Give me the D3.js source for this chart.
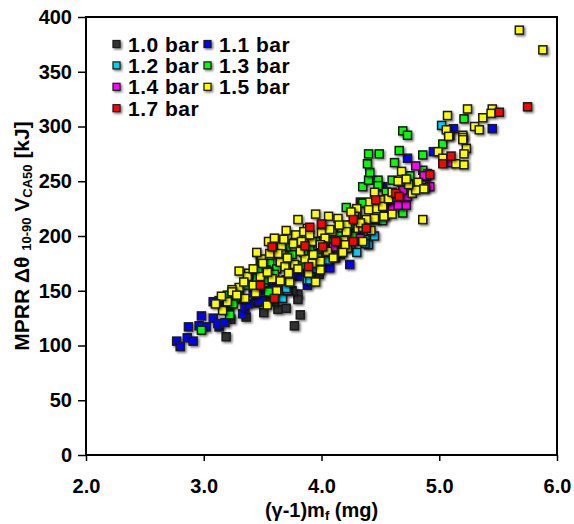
<!DOCTYPE html>
<html>
<head>
<meta charset="utf-8">
<script src="https://cdn.jsdelivr.net/npm/d3@7"></script>
<style>
  body { margin: 0; background: #fff; }
  svg text { font-family: "Liberation Sans", Arial, sans-serif; font-weight: bold; fill: #000; }
</style>
</head>
<body>
<svg id="chart"></svg>
<script>
// Data: [ (γ-1)mf , MPRR value ]
const bar10 = [[3.19,108],[3.23,124],[3.36,126],[3.51,130],[3.63,133],[3.70,134],[3.80,147],[3.80,142],
  [3.77,118],[3.82,128],[3.60,140],[3.92,160],[3.98,165],[4.05,172],[3.75,150],[3.55,145],[4.12,180]];
const bar11 = [[2.77,104],[2.80,99],[2.86,107],[2.91,104],[2.87,117],[2.96,118],[2.98,127],[3.02,117],
  [3.08,125],[3.13,117],[3.12,120],[3.08,140],[3.13,141],[3.16,139],[3.18,121],[3.20,135],[3.22,137],
  [3.28,143],[3.33,129],[3.35,135],[3.44,139],[3.46,140],[3.49,141],[3.42,148],[3.52,150],[3.58,152],
  [3.65,155],[3.80,163],[3.88,155],[3.85,168],[3.95,170],[4.07,171],[4.16,183],[4.24,174],[4.20,190],
  [4.33,231],[4.52,245],[4.73,271],[4.95,277],[5.12,298],[5.45,298],[4.00,178],[3.70,160],[4.30,200],[4.45,215],
  [3.25,145],[3.38,138],[3.55,148],[3.62,158],[3.75,165],[3.90,172]];
const bar12 = [[3.67,143],[3.71,150],[3.70,152],[3.88,160],[3.90,160],[4.13,187],[4.37,197],[4.40,192],
  [4.37,193],[4.25,190],[4.05,178],[3.95,170],[4.30,185],[5.02,301],[4.45,200]];
const bar13 = [[2.98,114],[3.22,128],[3.20,146],[3.27,143],[3.55,149],[3.72,159],[3.75,183],[3.56,175],
  [3.83,173],[3.97,184],[3.53,169],[3.53,160],[3.40,158],[3.30,150],[3.62,170],[3.90,190],[4.05,195],
  [4.10,205],[4.21,226],[4.35,245],[4.40,251],[4.48,251],[4.48,246],[4.41,258],[4.39,266],[4.40,275],
  [4.49,275],[4.62,267],[4.66,278],[4.69,296],[4.73,292],[4.86,274],[4.86,260],[4.60,251],[4.68,249],
  [5.03,284],[5.21,307],[4.69,221],[4.52,214],[4.30,220],[4.25,210],[4.15,200],[3.95,195],[4.55,240],
  [4.75,255],[4.00,188],[3.45,162],[3.65,180],[4.45,230],
  [3.36,155],[3.48,170],[3.70,190],[3.85,185],[4.15,192],[4.28,200],[3.25,138],[3.45,150],[3.60,165],
  [4.35,230],[4.00,210]];
const bar14 = [[4.04,185],[4.11,189],[4.10,190],[4.33,198],[4.52,226],[4.60,226],[4.65,228],[4.72,228],
  [4.73,236],[4.69,242],[4.80,264],[4.89,254],[4.90,257],[4.87,255],[4.92,245],[5.09,267],[4.45,215],[4.55,232]];
const bar15 = [[5.68,388],[5.88,370],[4.86,215],
  [5.24,316],[5.37,308],[5.45,316],[5.44,312],[5.30,300],[5.34,297],[5.20,292],[5.20,290],[5.09,292],
  [5.23,280],[5.07,310],[5.06,297],[5.08,291],[5.20,288],[5.21,275],[4.99,277],[5.03,271],[5.14,266],
  [5.21,265],[4.88,244],
  [4.68,259],[4.82,249],[4.77,239],[4.80,242],[4.56,234],[4.50,233],[4.41,231],[4.40,224],[4.47,225],
  [4.54,219],[4.52,227],[4.87,243],[4.74,247],[4.57,234],[4.45,216],[4.38,215],[4.53,218],[4.30,225],[4.45,240],
  [4.06,218],[4.14,216],[4.00,203],[4.09,204],[4.22,205],[4.31,207],[3.88,207],[3.92,195],[4.19,196],
  [4.22,189],[4.35,208],[4.22,210],[4.07,206],[4.21,204],[4.03,198],[4.13,196],[4.20,192],[4.00,191],
  [3.87,201],[3.78,201],[3.77,194],[3.99,192],[3.65,192],[3.61,184],[3.66,186],[3.48,178],[3.77,174],
  [3.86,179],[3.99,177],[3.65,176],[3.69,172],[3.53,167],[3.38,166],[3.37,163],[3.48,163],[3.58,161],
  [3.65,159],[3.73,158],[3.99,169],[3.89,166],[3.95,158],[3.30,153],[3.24,151],[3.24,149],[3.35,143],
  [3.16,132],[3.49,179],[3.44,148],[3.54,137],[3.54,167],[3.66,191],[3.76,193],[3.85,204],[3.90,201],
  [3.63,184],[3.50,175],[3.56,184],[3.72,166],[3.55,195],[3.70,205],[3.80,215],[3.95,220],
  [3.42,170],[3.45,185],[3.60,198],[3.68,197],[3.82,186],[3.93,183],[4.05,186],[4.15,210],[4.28,218],
  [4.33,212],[3.34,158],[3.28,146],[3.20,140],[3.42,155],[3.62,150],[3.80,170],[3.92,175],[4.10,180],
  [4.18,185],[4.35,195],[4.60,240],[4.65,250],[4.72,252],[4.60,220],[3.30,168],[3.15,145],[3.10,138],
  [3.71,180],[3.83,195],[4.25,222],[4.42,205]];
const bar17 = [[3.48,155],[3.58,190],[3.60,143],[3.86,191],[3.89,172],[3.90,208],[4.00,211],[4.01,190],
  [4.12,195],[4.27,195],[4.27,215],[4.38,207],[4.46,233],[4.63,239],[4.66,236],[4.92,256],[5.03,266],
  [5.10,273],[5.51,313],[5.75,318]];

const seriesNames = ['1.0 bar', '1.1 bar', '1.2 bar', '1.3 bar', '1.4 bar', '1.5 bar', '1.7 bar'];
const seriesData = [bar10, bar11, bar12, bar13, bar14, bar15, bar17];
const seriesColors = ['#333333', '#0000ff', '#00ccff', '#00ff00', '#ff00ff', '#ffff00', '#ff0000'];
const xTicks = [2, 3, 4, 5, 6];
const yTicks = [0, 50, 100, 150, 200, 250, 300, 350, 400];

const margin = { top: 17, right: 17, bottom: 69, left: 86 };
const width = 574 - margin.left - margin.right;
const height = 524 - margin.top - margin.bottom;

const root = d3.select('#chart').attr('width', 574).attr('height', 524);

// soft drop shadow under the markers
const filt = root.append('defs').append('filter').attr('id', 'shadow')
  .attr('x', '-50%').attr('y', '-50%').attr('width', '200%').attr('height', '200%');
filt.append('feDropShadow').attr('dx', 1.5).attr('dy', 1.5).attr('stdDeviation', 0.8)
  .attr('flood-color', '#000').attr('flood-opacity', 0.55);

const svg = root.append('g').attr('transform', `translate(${margin.left}, ${margin.top})`);

const xScale = d3.scaleLinear().domain([2, 6]).range([0, width]);
const yScale = d3.scaleLinear().domain([0, 400]).range([height, 0]);

// axes
const xAxis = svg.append('g').attr('transform', `translate(0, ${height})`)
  .call(d3.axisBottom(xScale).tickValues(xTicks).tickFormat(d3.format('.1f')).tickSize(6).tickPadding(18));
const yAxis = svg.append('g')
  .call(d3.axisLeft(yScale).tickValues(yTicks).tickFormat(d3.format('d')).tickSize(8).tickPadding(6));
[xAxis, yAxis].forEach(a => {
  a.select('.domain').remove();
  a.selectAll('line').attr('stroke', '#000').attr('stroke-width', 1.5);
  a.selectAll('text').attr('font-size', 20).attr('font-family', '"Liberation Sans", Arial, sans-serif')
    .attr('font-weight', 'bold');
});

// frame
svg.append('rect').attr('x', 0).attr('y', 0).attr('width', width).attr('height', height)
  .attr('fill', 'none').attr('stroke', '#000').attr('stroke-width', 2);

// points
const sz = 8;
seriesData.forEach((pts, i) => {
  svg.append('g').selectAll('rect').data(pts).enter().append('rect')
    .attr('x', d => xScale(d[0]) - sz / 2)
    .attr('y', d => yScale(d[1]) - sz / 2)
    .attr('width', sz).attr('height', sz)
    .attr('fill', seriesColors[i])
    .attr('stroke', '#1a1a1a').attr('stroke-width', 1.5)
    .attr('filter', 'url(#shadow)');
});

// legend
const legend = svg.append('g').attr('transform', 'translate(27, 27)');
seriesNames.forEach((name, i) => {
  const col = i % 2, row = Math.floor(i / 2);
  const g = legend.append('g').attr('transform', `translate(${col * 91}, ${row * 21.4})`);
  g.append('rect').attr('x', 0).attr('y', -3.5).attr('width', 7).attr('height', 7)
    .attr('fill', seriesColors[i]).attr('stroke', '#1a1a1a').attr('stroke-width', 1.2)
    .attr('filter', 'url(#shadow)');
  g.append('text').attr('x', 15).attr('y', 0).attr('dy', '0.36em').attr('font-size', 21)
    .attr('letter-spacing', 0.5).text(name);
});

// axis titles
const xt = root.append('text').attr('x', margin.left + width / 2).attr('y', 517)
  .attr('text-anchor', 'middle').attr('font-size', 20);
xt.append('tspan').text('(γ-1)m');
xt.append('tspan').attr('font-size', 13).attr('dy', 3).text('f');
xt.append('tspan').attr('dy', -3).text(' (mg)');

const yt = root.append('text').attr('transform', `translate(29, ${margin.top + height / 2}) rotate(-90)`)
  .attr('text-anchor', 'middle').attr('font-size', 21);
yt.append('tspan').text('MPRR Δθ ');
yt.append('tspan').attr('font-size', 13).attr('dy', 2).text('10-90');
yt.append('tspan').attr('dy', -2).text('  V');
yt.append('tspan').attr('font-size', 13).attr('dy', 3).text('CA50');
yt.append('tspan').attr('dy', -3).text(' [kJ]');
</script>
</body>
</html>
